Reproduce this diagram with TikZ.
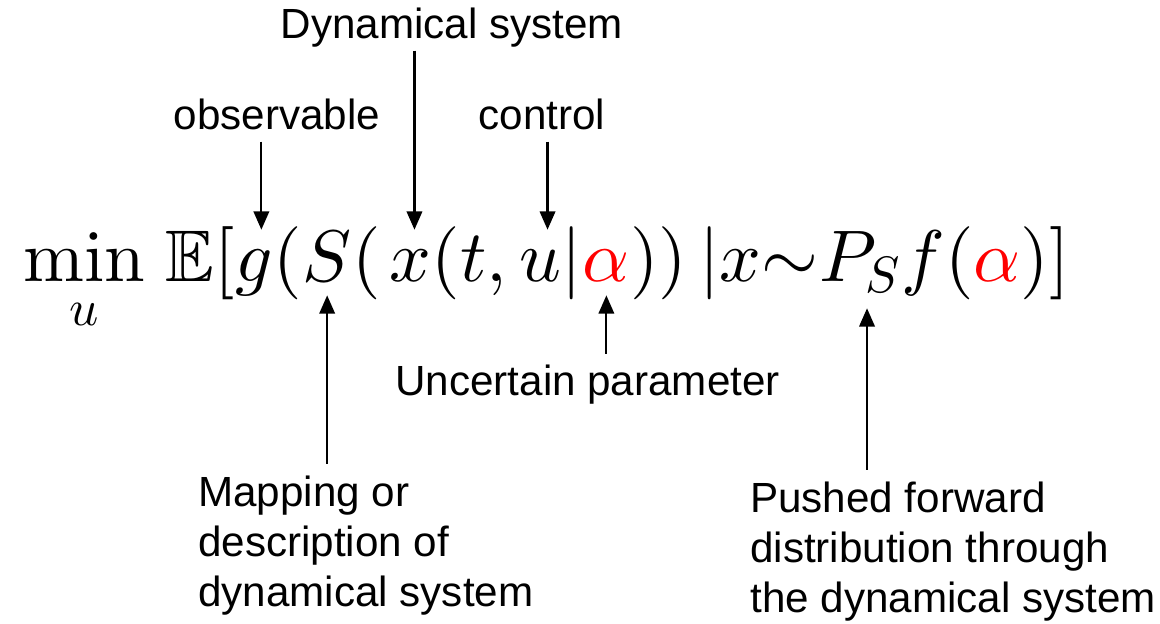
\documentclass[tikz,border=0pt]{standalone}
\usepackage{amssymb}
\usepackage[no-math]{fontspec}
\newfontfamily\labelfont{Liberation Sans}
\usetikzlibrary{positioning,arrows.meta}
\DeclareFontShape{OT1}{cmr}{m}{n}{<-> cmr10}{}
\DeclareFontShape{OML}{cmm}{m}{it}{<-> cmmi10}{}
\DeclareFontShape{OMS}{cmsy}{m}{n}{<-> cmsy10}{}
\DeclareFontFamily{U}{msb}{}
\DeclareFontShape{U}{msb}{m}{n}{<-> msbm10}{}

\begin{document}
\begin{tikzpicture}[
    lbl/.style={font=\labelfont\fontsize{30}{35.6}\selectfont, inner xsep=0pt, inner ysep=8pt, text depth=0pt},
    eqfont/.style={font=\fontsize{52}{60}\selectfont, inner sep=0pt},
    eq/.style={eqfont, text height=37pt, text depth=9.3pt},
    pointer/.style={-{Triangle[length=13pt,width=11pt]}, line width=1.5pt}]
    \useasboundingbox (0,0) rectangle (29,-15.6);

    % Wzor
    \node[eqfont, anchor=base west] (mn) at (0.575,-7.05) {$\displaystyle\min_{u}$};
    \node[eq, base right=0pt of mn] (ex) {$\;\mathbb{E}[$};
    \node[eq, base right=0pt of ex] (g) {$g$};
    \node[eq, base right=0pt of g] (p1) {$($};
    \node[eq, base right=0pt of p1] (S) {$S$};
    \node[eq, base right=0pt of S] (p2) {$(\mkern2mu$};
    \node[eq, base right=0pt of p2] (x) {$x$};
    \node[eq, base right=0pt of x] (p3) {$(t,\,$};
    \node[eq, base right=0pt of p3] (u) {$u$};
    \node[eq, base right=0pt of u] (p4) {$|$};
    \node[eq, base right=0pt of p4, text=red] (al) {$\alpha$};
    \node[eq, base right=0pt of al] (p5) {$))\,|x{\sim}$};
    \node[eq, base right=0pt of p5, text depth=18.5pt] (P) {$P_S$};
    \node[eq, base right=0pt of P] (p6) {$f({\color{red}\alpha})]$};

    % Opisy
    \node[lbl, anchor=base] (dyn) at (11.3,-0.975) {Dynamical system};
    \node[lbl, anchor=base] (obs) at (6.925,-3.25) {observable};
    \node[lbl, anchor=base] (ctl) at (13.55,-3.25) {control};
    \node[lbl, anchor=base] (unc) at (14.69,-9.9) {Uncertain parameter};
    \node[lbl, anchor=north west, align=left] (map) at (4.95,-11.6) {Mapping or\\description of\\dynamical system};
    \node[lbl, anchor=north west, align=left] (push) at (18.75,-11.75) {Pushed forward\\distribution through\\the dynamical system};

    % Strzalki
    \coordinate (gtop) at ([xshift=5pt]g.north);
    \coordinate (xtop) at ([xshift=3pt]x.north);
    \coordinate (utop) at ([xshift=5pt]u.north);
    \coordinate (Pbot) at ([xshift=5pt]P.south);
    \draw[pointer] (obs.south -| gtop) -- (gtop);
    \draw[pointer] (dyn.south -| xtop) -- (xtop);
    \draw[pointer] (ctl.south -| utop) -- (utop);
    \draw[pointer] (unc.north -| al.south) -- (al.south);
    \draw[pointer] (map.north -| S.south) -- (S.south);
    \draw[pointer] (push.north -| Pbot) -- (Pbot);
\end{tikzpicture}
\end{document}
